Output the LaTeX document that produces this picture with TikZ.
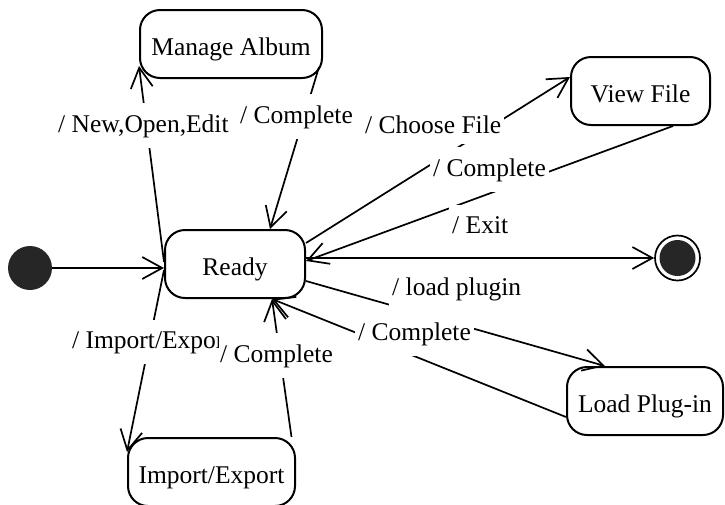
\documentclass[tikz,border=0pt]{standalone}
\usepackage{fontspec}
\setmainfont{Liberation Serif}
\usetikzlibrary{arrows.meta}
\begin{document}
\begin{tikzpicture}[x=1pt,y=-1pt,
  txt/.style={font=\fontsize{25.5}{30}\selectfont},
  statebox/.style={txt, draw, line width=2pt, rounded corners=20pt,
    minimum width=#1, minimum height=68pt, inner sep=0pt,
    text height=26pt, text depth=4pt},
  conn/.style={line width=1.7pt, -{Straight Barb[length=20pt,width=22pt]}},
  lbl/.style={txt, fill=white, inner xsep=3pt, inner ysep=11pt, anchor=base west},
]
\useasboundingbox (0,0) rectangle (725,504);

% states
\node[statebox=182pt] (manage) at (231,44) {Manage Album};
\node[statebox=139pt] (view) at (640.5,91) {View File};
\node[statebox=140pt] (ready) at (235,264) {Ready};
\node[statebox=156pt] (load) at (645,401) {Load Plug-in};
\node[statebox=167pt] (imp) at (211.5,472) {Import/Export};

% pseudo states
\node[circle, fill=black!85, minimum size=44pt, inner sep=0pt] (init) at (30,268) {};
\node[circle, draw, line width=1.7pt, minimum size=45pt, inner sep=0pt,
  path picture={\fill[black!85] (path picture bounding box.center) circle (18pt);}]
  (final) at (677.5,258) {};

% transitions
\draw[conn] (init.east) -- (init.east -| ready.west);
\draw[conn] ([yshift=2pt]ready.west) -- ([yshift=-22pt]manage.west);
\draw[conn] ([xshift=-4pt,yshift=-23pt]manage.east) -- ([xshift=35pt]ready.north);
\draw[conn] ([yshift=21pt]ready.east) -- ([yshift=14pt]view.west);
\draw[conn] ([xshift=32.5pt]view.south) -- ([yshift=3pt]ready.east);
\draw[conn] (final.west -| ready.east) -- (final.west);
\draw[conn] ([yshift=-17pt]ready.east) -- ([xshift=-40pt]load.north);
\draw[conn] ([yshift=-16pt]load.west) -- ([xshift=37pt]ready.south);
\draw[conn] ([yshift=-6pt]ready.west) -- ([yshift=20pt]imp.west);
\draw[conn] ([xshift=80pt]imp.north) -- ([xshift=37pt]ready.south);

% transition labels
\node[lbl] (newl) at (55,132) {/ New,Open,Edit};
\node[lbl] (mcl) at (237,123) {/ Complete};
\node[lbl] (cfl) at (362,133) {/ Choose File};
\node[lbl] (vcl) at (430,176) {/ Complete};
\node[lbl] (exl) at (449,233) {/ Exit};
\node[lbl] (lpl) at (389,295) {/ load plugin};
\node[lbl] (lcl) at (355,340) {/ Complete};
\node[lbl] (icl) at (217,362) {/ Complete};
\begin{scope}
  \clip (50,300) rectangle (218.5,380);
  \node[lbl] (iml) at (69,348) {/ Import/Export};
\end{scope}
\end{tikzpicture}
\end{document}
